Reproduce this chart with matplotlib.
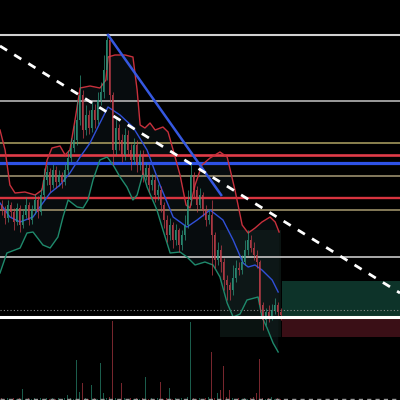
import numpy as np
import matplotlib
matplotlib.use("Agg")
import matplotlib.pyplot as plt

# candle closes, one per bar (opens are the previous close)
closes = [190, 182, 195, 188, 178, 192, 175, 185, 195, 180,
          190, 200, 188, 205, 220, 228, 215, 230, 218, 225,
          218, 230, 242, 252, 260, 280, 305, 270, 285, 272,
          290, 280, 300, 308, 330, 360, 305, 250, 272, 260,
          245, 265, 250, 240, 255, 235, 245, 225, 232, 215,
          220, 205, 210, 195, 180, 165, 175, 160, 170, 155,
          165, 175, 200, 225, 210, 195, 205, 190, 180, 185,
          165, 140, 150, 138, 120, 115, 110, 122, 132, 130,
          138, 150, 160, 152, 145, 138, 95, 80, 88, 82,
          90, 95, 88, 85]
first_open = 195
highs = [200, 194, 200, 198, 192, 197, 195, 190, 203, 198,
         195, 206, 204, 212, 232, 235, 232, 236, 234, 230,
         228, 236, 250, 262, 275, 300, 325, 310, 295, 290,
         298, 296, 308, 318, 345, 365, 362, 308, 282, 276,
         266, 272, 270, 256, 262, 260, 250, 250, 238, 236,
         226, 224, 216, 214, 198, 185, 182, 178, 176, 172,
         170, 185, 210, 237, 228, 214, 212, 208, 195, 190,
         200, 168, 158, 155, 142, 125, 118, 135, 140, 138,
         145, 160, 170, 165, 158, 150, 140, 98, 92, 95,
         96, 102, 98, 92]
lows = [185, 176, 178, 183, 170, 175, 168, 172, 182, 175,
        176, 186, 182, 185, 200, 215, 208, 212, 212, 214,
        212, 215, 226, 238, 248, 255, 275, 262, 265, 266,
        268, 272, 276, 295, 302, 320, 298, 235, 245, 250,
        238, 240, 244, 230, 236, 228, 230, 218, 220, 208,
        210, 198, 200, 188, 172, 158, 160, 152, 155, 148,
        150, 160, 172, 195, 202, 188, 192, 184, 174, 176,
        125, 132, 135, 128, 110, 100, 100, 105, 118, 125,
        126, 135, 145, 148, 140, 132, 88, 70, 75, 78,
        80, 86, 84, 80]
volumes = [2, 1, 2, 1, 2, 1, 2, 11, 1, 2,
           1, 2, 1, 2, 1, 2, 1, 2, 1, 2,
           1, 2, 5, 2, 1, 40, 8, 17, 2, 1,
           15, 2, 1, 37, 7, 2, 3, 79, 2, 1,
           17, 2, 1, 2, 1, 2, 1, 2, 23, 1,
           2, 1, 2, 18, 1, 2, 12, 1, 2, 1,
           2, 1, 3, 78, 2, 1, 2, 1, 2, 3,
           48, 2, 7, 10, 34, 3, 10, 2, 1, 2,
           1, 2, 1, 2, 3, 7, 41, 2, 1, 2,
           3, 1, 2, 1]

# bollinger bands (bar index, price)
upper_idx = [-0.5, 1.2, 2.8, 4.5, 7.8, 11.2, 13.5, 15.2, 16.8, 19.5, 21.2, 22.8,
             24.5, 26.2, 29.5, 32.8, 34.8, 35.5, 37.8, 41.2, 43.8, 45.2, 46.2,
             47.8, 49.5, 51.2, 53.8, 55.5, 57.2, 59.5, 61.5, 62.8, 64.5, 66.8,
             69.5, 72.8, 75.2, 77.8, 80.2, 82.2, 84.5, 86.8, 89.5, 91.2, 92.5]
upper = [270, 250, 215, 207, 208, 205, 210, 240, 252, 254, 245, 250,
         280, 312, 314, 312, 320, 343, 345, 345, 343, 310, 275,
         272, 277, 270, 273, 268, 250, 225, 195, 192, 215, 235,
         242, 248, 243, 210, 175, 167, 172, 178, 183, 178, 168]
mid_idx = [-0.5, 2.8, 6.2, 10.5, 12.8, 16.2, 19.5, 22.8, 26.2, 29.5, 32.8, 35.5,
           39.5, 43.8, 48.5, 52.8, 57.2, 61.8, 65.2, 69.5, 73.8, 77.2, 80.5,
           82.2, 84.5, 86.8, 90.2, 92.2]
mid = [197, 183, 178, 183, 193, 207, 215, 227, 243, 257, 277, 293,
       285, 273, 250, 215, 183, 173, 180, 190, 180, 160, 137,
       133, 135, 130, 120, 108]
lower_idx = [-0.5, 1.8, 6.2, 8.5, 10.5, 13.8, 16.2, 18.8, 20.5, 22.2, 25.2, 27.2,
             28.8, 30.5, 32.8, 35.2, 37.2, 39.5, 41.8, 43.8, 45.2, 47.2, 48.5,
             51.8, 53.8, 56.2, 59.5, 61.8, 64.5, 67.8, 70.5, 72.8, 75.2, 77.2,
             79.5, 81.8, 85.5, 86.8, 88.5, 90.5, 92.2]
lower = [127, 147, 152, 167, 168, 155, 152, 163, 183, 200, 193, 192,
         200, 220, 240, 243, 235, 223, 213, 200, 205, 227, 213,
         190, 170, 147, 148, 143, 135, 138, 135, 123, 97, 83,
         86, 100, 103, 83, 72, 57, 48]

# drawn levels and lines
levels = [365, 299, 257, 245, 237, 224, 202, 190, 143]
level_colors = ["#d0d0d0", "#a8a8a8", "#b0a464", "#e23c48", "#2e52e6",
                "#a89a78", "#d8343f", "#a89a70", "#b8b8b8"]
level_widths = [1.5, 1.3, 1.1, 1.9, 2.3, 1.1, 1.7, 1.1, 1.3]
trend_x = [35.5, 73.2]
trend_y = [365, 205]
dash_x = [-0.5, 132.8]
dash_y = [354, 107]
entry = 83
last_price = 90
target = 119
stop = 63
box_start = 93.5
zone_x = [72.8, 93.2]
zone_y = [63, 170]

UP = "#2e9c80"
DOWN = "#c8404c"


def draw_candles(ax):
    opens = [first_open] + closes[:-1]
    for i in range(len(closes)):
        col = UP if closes[i] >= opens[i] else DOWN
        ax.vlines(i, lows[i], highs[i], color=col, lw=0.6, alpha=0.8, zorder=4)
        b = min(opens[i], closes[i])
        h = max(abs(closes[i] - opens[i]), 0.8)
        ax.bar(i, h, bottom=b, width=0.55, color=col, alpha=0.85, lw=0, zorder=4)


def main():
    fig = plt.figure(figsize=(4, 4), dpi=100, facecolor="black")

    vax = fig.add_axes([0, 0, 1, 0.2])
    vax.set_facecolor("black")
    opens = [first_open] + closes[:-1]
    vcols = [UP if c >= o else DOWN for o, c in zip(opens, closes)]
    vax.bar(range(len(volumes)), volumes, width=0.35, color=vcols, alpha=0.6, lw=0)
    vax.set_xlim(-0.5, 132.8)
    vax.set_ylim(0, 80)
    vax.axis("off")

    ax = fig.add_axes([0, 0, 1, 1])
    ax.patch.set_alpha(0)
    ax.set_xlim(-0.5, 132.8)
    ax.set_ylim(0, 400)
    ax.axis("off")

    # band fill
    ax.fill(np.r_[upper_idx, lower_idx[::-1]], np.r_[upper, lower[::-1]],
            color="#16242a", alpha=0.35, lw=0, zorder=1)
    # position zone behind recent bars
    ax.fill_between(zone_x, zone_y[0], zone_y[1], color="#12201e", alpha=0.6, lw=0, zorder=1)
    # target / stop boxes
    ax.fill_between([box_start, 133], entry + 1, target, color="#0d3329", lw=0, zorder=1)
    ax.fill_between([box_start, 133], stop, entry - 1, color="#3a0f16", lw=0, zorder=1)

    for lv, c, w in zip(levels, level_colors, level_widths):
        ax.axhline(lv, color=c, lw=w, zorder=2)
    ax.axhline(last_price, color="#8a8a8a", lw=0.8, ls=(0, (1, 2)), zorder=2)
    ax.axhline(entry, color="white", lw=2.2, zorder=6)
    ax.axhline(1, color="#9a9a9a", lw=1, ls=(0, (3, 3)), zorder=2)

    ax.plot(upper_idx, upper, color="#c8303c", lw=1, zorder=3)
    ax.plot(mid_idx, mid, color="#3050d8", lw=1, zorder=3)
    ax.plot(lower_idx, lower, color="#1f8a6c", lw=1, zorder=3)

    draw_candles(ax)

    ax.plot(trend_x, trend_y, color="#3558e0", lw=1.8, zorder=5)
    ax.plot(dash_x, dash_y, color="white", lw=2, ls=(0, (3, 3)), zorder=5)

    fig.savefig("out.png", dpi=100, facecolor="black")


main()
